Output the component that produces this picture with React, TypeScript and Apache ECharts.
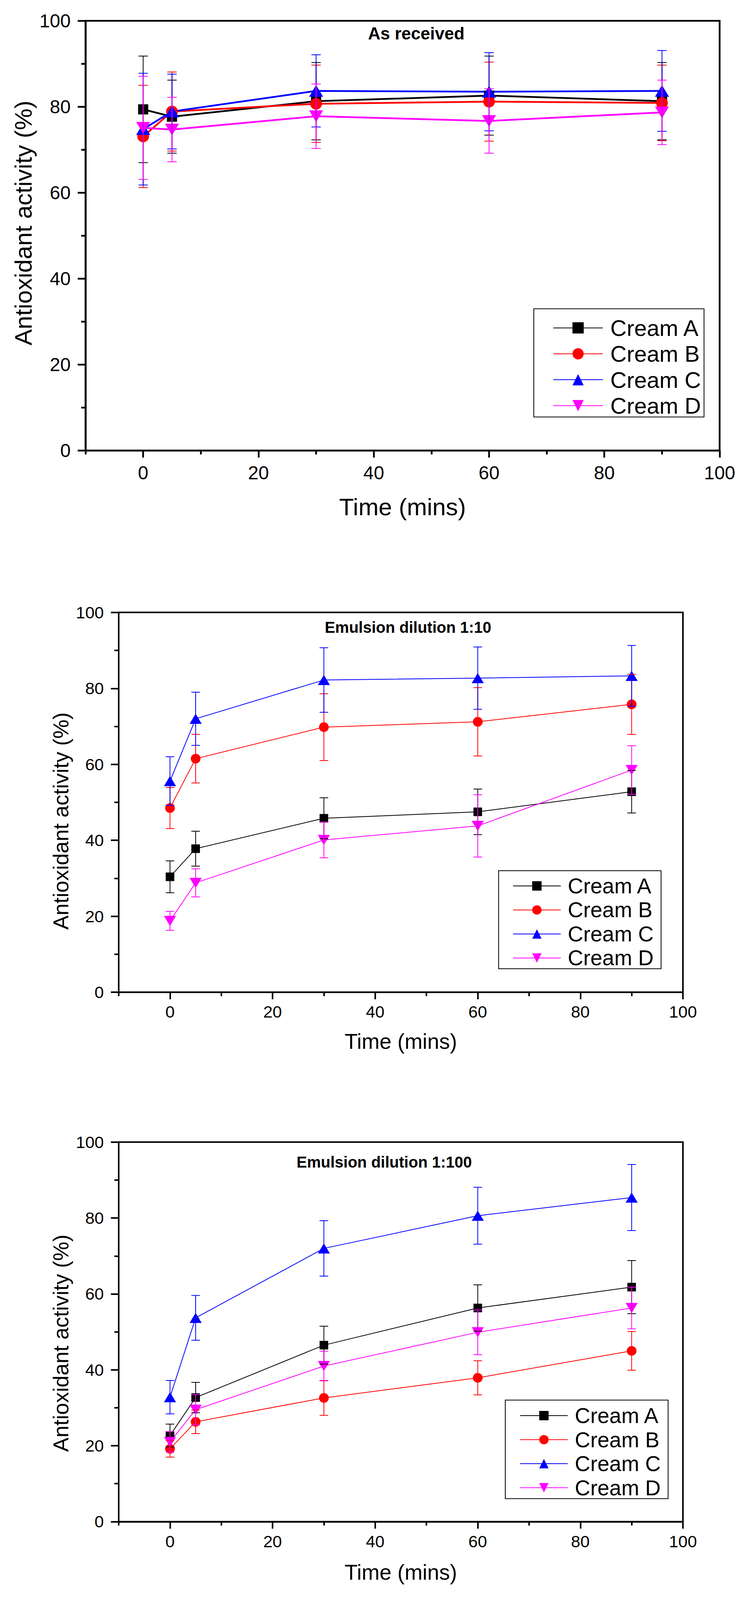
import React, { useEffect, useRef } from 'react';
import * as echarts from 'echarts';

// ---------------------------------------------------------------------------
// data: antioxidant activity (%) vs time, mean and SD
// ---------------------------------------------------------------------------
const TIMES = [0, 5, 30, 60, 90];
const CREAMS = ['Cream A', 'Cream B', 'Cream C', 'Cream D'];
const COLORS = ['#000000', '#ff0000', '#0000ff', '#ff00ff'];
const X_MAJOR = [0, 20, 40, 60, 80, 100];
const X_MINOR = [-10, 10, 30, 50, 70, 90];

// As received
const RECEIVED_MEAN = [
  [79.4, 77.7, 81.3, 82.6, 81.3],
  [73.1, 78.9, 80.7, 81.2, 80.9],
  [74.8, 78.9, 83.7, 83.5, 83.7],
  [75.1, 74.7, 77.8, 76.7, 78.7],
];
const RECEIVED_SD = [
  [12.4, 8.5, 9.0, 9.2, 9.0],
  [11.9, 9.2, 9.0, 9.2, 8.8],
  [13.0, 8.7, 8.4, 9.1, 9.4],
  [12.0, 7.5, 7.5, 7.5, 7.5],
];

// Emulsion dilution 1:10
const DIL10_MEAN = [
  [30.4, 37.8, 45.8, 47.5, 52.8],
  [48.5, 61.5, 69.8, 71.2, 75.8],
  [55.6, 72.0, 82.2, 82.7, 83.3],
  [18.8, 28.8, 40.1, 43.8, 58.5],
];
const DIL10_SD = [
  [4.2, 4.6, 5.4, 6.0, 5.6],
  [5.4, 6.4, 8.8, 9.0, 7.9],
  [6.4, 7.0, 8.5, 8.2, 8.0],
  [2.5, 3.7, 4.7, 8.2, 6.4],
];

// Emulsion dilution 1:100
const DIL100_MEAN = [
  [22.7, 32.7, 46.5, 56.3, 61.8],
  [19.2, 26.3, 32.6, 37.9, 45.0],
  [32.8, 53.7, 72.0, 80.6, 85.4],
  [21.0, 29.5, 41.0, 49.9, 56.3],
];
const DIL100_SD = [
  [3.0, 4.0, 5.0, 6.1, 7.0],
  [2.2, 3.1, 4.6, 4.5, 5.1],
  [4.4, 5.9, 7.3, 7.5, 8.7],
  [2.7, 4.0, 3.9, 5.9, 5.5],
];

const FONT = '"Liberation Sans", Arial, Helvetica, sans-serif';
const SYMBOLS = ['rect', 'circle', 'triangle', 'path://M0,0L2,0L1,1.6Z'];

// the photo of the page stops at 4096px, so the 4528px tall figure is laid
// out with its vertical positions squeezed to fit
const PAGE_W = 1931;
const REF_H = 4528;
const V = 4096 / REF_H;

// all positions below are in reference pixels, relative to each panel's top
type PanelProps = {
  top: number;
  height: number;
  title: string;
  titlePos: [number, number];
  titleSize: number;
  mean: number[][];
  sd: number[][];
  grid: { left: number; top: number; width: number; height: number };
  tickSize: number;
  nameSize: number;
  xNameDist: number;
  xLabelDist: number;
  yNameGap: number;
  yNameShift: number; // + moves the y title up
  axisWidth: number;
  lineWidth: number;
  barWidth: number;
  capWidth: number;
  symbolSizes: Array<number | number[]>;
  legend: {
    left: number;
    boxTop: number;
    boxBottom: number;
    firstRow: number;
    rowStep: number;
    itemWidth: number;
    itemHeight: number;
    padLeft: number;
    padRight: number;
    fontSize: number;
    textPad: number;
  };
};

const Panel: React.FC<PanelProps> = (p) => {
  const chartRef = useRef<HTMLDivElement>(null);

  useEffect(() => {
    if (!chartRef.current) return;
    const chart = echarts.init(chartRef.current, undefined, { renderer: 'svg' });

    const lineSeries: any[] = CREAMS.map((name, i) => ({
      name,
      type: 'line',
      xAxisIndex: 0,
      yAxisIndex: 0,
      data: TIMES.map((t, j) => [t, p.mean[i][j]]),
      symbol: SYMBOLS[i],
      symbolSize: p.symbolSizes[i],
      showAllSymbol: true,
      lineStyle: { color: COLORS[i], width: p.lineWidth },
      itemStyle: { color: COLORS[i] },
      z: 2,
    }));

    // vertical SD bars with caps
    const errorSeries: any[] = CREAMS.map((name, i) => ({
      name: name + ' SD',
      type: 'custom',
      xAxisIndex: 0,
      yAxisIndex: 0,
      data: TIMES.map((t, j) => [t, p.mean[i][j] - p.sd[i][j], p.mean[i][j] + p.sd[i][j]]),
      encode: { x: 0, y: [1, 2] },
      z: 3,
      renderItem: (_params: any, api: any) => {
        const x = api.value(0);
        const top = api.coord([x, api.value(2)]);
        const bot = api.coord([x, api.value(1)]);
        const half = p.capWidth / 2;
        const style = { stroke: COLORS[i], lineWidth: p.barWidth };
        return {
          type: 'group',
          children: [
            { type: 'line', shape: { x1: top[0], y1: top[1], x2: bot[0], y2: bot[1] }, style },
            { type: 'line', shape: { x1: top[0] - half, y1: top[1], x2: top[0] + half, y2: top[1] }, style },
            { type: 'line', shape: { x1: bot[0] - half, y1: bot[1], x2: bot[0] + half, y2: bot[1] }, style },
          ],
        };
      },
    }));

    const axisLineStyle = { color: '#000', width: p.axisWidth };
    const lg = p.legend;
    const half = lg.fontSize / 2;
    const lastRow = lg.firstRow + 3 * lg.rowStep;
    const legendPad = [
      Math.max(0, (lg.firstRow - lg.boxTop) * V - half),
      lg.padRight,
      Math.max(0, (lg.boxBottom - lastRow) * V - half),
      lg.padLeft,
    ];
    const shift = p.yNameShift * V * 2;
    const yNamePad = shift >= 0 ? [0, 0, 0, shift] : [0, -shift, 0, 0];

    const option: any = {
      animation: false,
      backgroundColor: '#ffffff',
      textStyle: { fontFamily: FONT, color: '#000' },
      grid: {
        left: p.grid.left,
        width: p.grid.width,
        top: p.grid.top * V,
        height: p.grid.height * V,
        show: true,
        borderColor: '#000',
        borderWidth: p.axisWidth,
        backgroundColor: 'transparent',
      },
      legend: {
        data: CREAMS,
        orient: 'vertical',
        left: lg.left,
        top: lg.boxTop * V,
        itemWidth: lg.itemWidth,
        itemHeight: lg.itemHeight,
        itemGap: Math.max(0, lg.rowStep * V - lg.fontSize),
        padding: legendPad,
        borderColor: '#000',
        borderWidth: 2,
        selectedMode: false,
        textStyle: {
          fontFamily: FONT,
          fontSize: lg.fontSize,
          color: '#000',
          padding: [0, 0, 0, lg.textPad],
        },
      },
      xAxis: [
        {
          type: 'value',
          min: -10,
          max: 100,
          name: 'Time (mins)',
          nameLocation: 'middle',
          nameGap: p.xNameDist * V - p.nameSize / 2,
          nameTextStyle: { fontFamily: FONT, fontSize: p.nameSize, color: '#000' },
          axisLine: { show: true, onZero: false, lineStyle: axisLineStyle },
          axisTick: { show: true, length: 18, customValues: X_MAJOR, lineStyle: axisLineStyle },
          axisLabel: {
            customValues: X_MAJOR,
            fontFamily: FONT,
            fontSize: p.tickSize,
            color: '#000',
            margin: p.xLabelDist * V - p.tickSize / 2,
          },
          splitLine: { show: false },
        },
        {
          type: 'value',
          min: -10,
          max: 100,
          position: 'bottom',
          axisLine: { show: false, onZero: false },
          axisTick: { show: true, length: 10, customValues: X_MINOR, lineStyle: axisLineStyle },
          axisLabel: { show: false },
          splitLine: { show: false },
        },
      ],
      yAxis: {
        type: 'value',
        min: 0,
        max: 100,
        interval: 20,
        name: 'Antioxidant activity (%)',
        nameLocation: 'middle',
        nameGap: p.yNameGap,
        nameTextStyle: {
          fontFamily: FONT,
          fontSize: p.nameSize,
          color: '#000',
          padding: yNamePad,
        },
        axisLine: { show: true, onZero: false, lineStyle: axisLineStyle },
        axisTick: { show: true, length: 20, lineStyle: axisLineStyle },
        minorTick: { show: true, splitNumber: 2, length: 11, lineStyle: axisLineStyle },
        axisLabel: { fontFamily: FONT, fontSize: p.tickSize, color: '#000', margin: 38 },
        splitLine: { show: false },
        minorSplitLine: { show: false },
      },
      graphic: [
        {
          type: 'text',
          x: p.titlePos[0],
          y: p.titlePos[1] * V,
          style: {
            text: p.title,
            fontFamily: FONT,
            fontSize: p.titleSize,
            fontWeight: 'bold',
            fill: '#000',
            align: 'center',
            verticalAlign: 'middle',
          },
        },
      ],
      series: [...lineSeries, ...errorSeries],
    };

    chart.setOption(option);

    return () => {
      chart.dispose();
    };
  }, [p]);

  return (
    <div
      ref={chartRef}
      style={{
        position: 'absolute',
        left: 0,
        top: Math.round(p.top * V),
        width: PAGE_W,
        height: Math.round(p.height * V),
      }}
    />
  );
};

const PANEL_RECEIVED: PanelProps = {
  top: 0,
  height: 1500,
  title: 'As received',
  titlePos: [1066, 94],
  titleSize: 44,
  mean: RECEIVED_MEAN,
  sd: RECEIVED_SD,
  grid: { left: 219, top: 59, width: 1624, height: 1216 },
  tickSize: 48,
  nameSize: 62,
  xNameDist: 159,
  xLabelDist: 63,
  yNameGap: 114,
  yNameShift: 36,
  axisWidth: 4.5,
  lineWidth: 4.5,
  barWidth: 2,
  capWidth: 24,
  symbolSizes: [26, 30, [36, 30], [36, 30]],
  legend: {
    left: 1367,
    boxTop: 874,
    boxBottom: 1180,
    firstRow: 928,
    rowStep: 73.3,
    itemWidth: 127,
    itemHeight: 36,
    padLeft: 49,
    padRight: 8,
    fontSize: 58,
    textPad: 14,
  },
};

const PANEL_DIL10: PanelProps = {
  top: 1500,
  height: 1500,
  title: 'Emulsion dilution 1:10',
  titlePos: [1045, 275],
  titleSize: 40,
  mean: DIL10_MEAN,
  sd: DIL10_SD,
  grid: { left: 304, top: 233, width: 1445, height: 1075 },
  tickSize: 43,
  nameSize: 55,
  xNameDist: 139,
  xLabelDist: 55,
  yNameGap: 119,
  yNameShift: -53,
  axisWidth: 4,
  lineWidth: 2,
  barWidth: 2,
  capWidth: 22,
  symbolSizes: [22, 25, [31, 26], [31, 26]],
  legend: {
    left: 1277,
    boxTop: 964,
    boxBottom: 1241,
    firstRow: 1007,
    rowStep: 68,
    itemWidth: 122,
    itemHeight: 30,
    padLeft: 36,
    padRight: 19,
    fontSize: 55,
    textPad: 13,
  },
};

const PANEL_DIL100: PanelProps = {
  top: 3000,
  height: 1528,
  title: 'Emulsion dilution 1:100',
  titlePos: [984, 289],
  titleSize: 40,
  mean: DIL100_MEAN,
  sd: DIL100_SD,
  grid: { left: 304, top: 232, width: 1445, height: 1074 },
  tickSize: 43,
  nameSize: 55,
  xNameDist: 143,
  xLabelDist: 56,
  yNameGap: 114,
  yNameShift: -32,
  axisWidth: 4,
  lineWidth: 2,
  barWidth: 2,
  capWidth: 22,
  symbolSizes: [22, 25, [31, 26], [31, 26]],
  legend: {
    left: 1294,
    boxTop: 962,
    boxBottom: 1241,
    firstRow: 1006,
    rowStep: 68,
    itemWidth: 122,
    itemHeight: 30,
    padLeft: 37,
    padRight: 19,
    fontSize: 55,
    textPad: 13,
  },
};

export default function App() {
  useEffect(() => {
    document.body.style.margin = '0';
  }, []);

  return (
    <div style={{ position: 'relative', width: PAGE_W, height: REF_H, background: '#fff' }}>
      <Panel {...PANEL_RECEIVED} />
      <Panel {...PANEL_DIL10} />
      <Panel {...PANEL_DIL100} />
    </div>
  );
}
